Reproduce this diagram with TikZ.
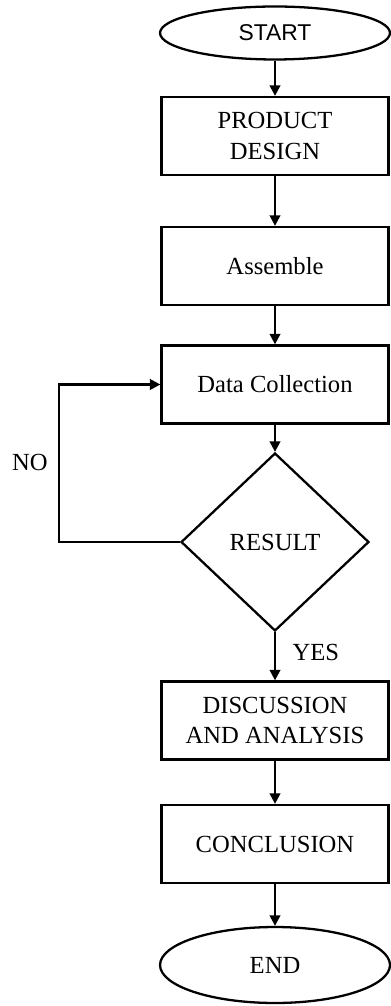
\documentclass[tikz,border=0pt]{standalone}
\usepackage{fontspec}
\setmainfont{Liberation Serif}
\newfontfamily\startfont{Liberation Sans}
\usetikzlibrary{positioning,shapes.geometric,arrows.meta}

\begin{document}
\begin{tikzpicture}[x=0.02cm,y=-0.02cm,
  txt/.style={font=\fontsize{14}{17.5}\selectfont},
  box/.style={txt,draw,line width=1.3pt,minimum width=4.54cm,minimum height=1.56cm,align=center},
  term/.style={txt,draw,ellipse,line width=1.3pt,inner sep=0pt,minimum width=4.6cm},
  arr/.style={line width=1.3pt,-{Triangle[length=6pt,width=6pt]}}]
\useasboundingbox (0,0) rectangle (390,1006);
\node[term,minimum height=1.06cm,font=\startfont\fontsize{13}{15}\selectfont] (start) at (275,33) {START};
\node[box] (pd) at (275,136) {PRODUCT\\DESIGN};
\node[box] (asm) at (275,266) {Assemble};
\node[box] (dc) at (275,384.5) {Data Collection};
\node[txt,draw,diamond,line width=1.3pt,inner sep=0pt,minimum width=3.76cm,minimum height=3.56cm] (res) at (275,542) {RESULT};
\node[box] (disc) at (275,720.5) {DISCUSSION\\AND ANALYSIS};
\node[box] (conc) at (275,844) {CONCLUSION};
\node[term,minimum height=1.52cm] (end) at (275,965) {END};
\foreach \a/\b in {start/pd,pd/asm,asm/dc,dc/res,disc/conc,conc/end}
  \draw[arr] (\a.south) -- (\b.north);
\draw[arr] (res.south) -- node[txt,right=6pt,pos=0.42] (yes) {YES} (disc.north);
\draw[arr] (res.west) -- ++(-121,0) coordinate (lp) |- (dc.west);
\node[txt] (no) at (30,462) {NO};
\end{tikzpicture}
\end{document}
